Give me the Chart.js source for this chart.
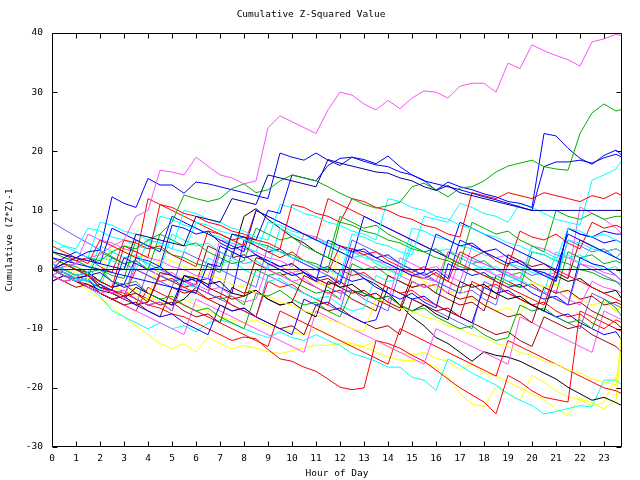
<!DOCTYPE html>
<html>
<head>
<meta charset="utf-8">
<script src="https://cdn.jsdelivr.net/npm/chart.js@4.4.1/dist/chart.umd.min.js"></script>
<style>
  html, body { margin: 0; padding: 0; background: #fff; }
  #wrap { width: 640px; height: 480px; }
</style>
</head>
<body>
<div id="wrap"><canvas id="zchart" width="640" height="480"></canvas></div>
<script>
// hour of day for each sample (half hour steps, last one at 23:45)
const hours = [0,0.5,1,1.5,2,2.5,3,3.5,4,4.5,5,5.5,6,6.5,7,7.5,8,8.5,9,9.5,10,10.5,11,11.5,12,12.5,13,13.5,14,14.5,15,15.5,16,16.5,17,17.5,18,18.5,19,19.5,20,20.5,21,21.5,22,22.5,23,23.5,23.75];
const hourTicks = [0,1,2,3,4,5,6,7,8,9,10,11,12,13,14,15,16,17,18,19,20,21,22,23];
const zTicks = [-30,-20,-10,0,10,20,30,40];

// cumulative (z*z)-1, one array per line
const zeroLine = [0,0,0,0,0,0,0,0,0,0, 0,0,0,0,0,0,0,0,0,0, 0,0,0,0,0,0,0,0,0,0, 0,0,0,0,0,0,0,0,0,0, 0,0,0,0,0,0,0,0,0];
const navyTen = [3,2.5,2,1.5,1,0.5,0,6,5.5,5, 4.5,4,9,8.5,8,12,11.5,11,16,15.5, 15,14.5,14,18.6,18,17.5,17,16.5,16.3,15.5, 15,14,13.4,14.2,13,12.5,12,11.5,11,10.5, 10,10,10,10,10,10,10,10,10];
const magentaTop = [0,0.5,1,2,2.5,4,5,9,10,16.8, 16.5,16,19,17.5,16,15.5,14.5,15,24,26, 25,24,23,27,30,29.5,28,27,28.6,27.2, 29,30.2,30,29,31,31.5,31.5,30,34.9,34, 38,37,36.2,35.5,34.4,38.5,39,39.8,39.5];
const greenTop = [0,0.5,1,2,1.5,3,4,3.5,5,6, 8,12.6,12,11.5,12,13.7,14.5,13,13.5,15, 16,15.5,15,14,12.9,12,11,10.4,10.8,11.4, 14,14.6,13.5,12.3,13.8,14,15,16.5,17.5,18, 18.5,17.4,17,16.8,23,26.5,28,26.8,27.1];
const blueHighA = [0,1,2,3,3.3,12.3,11.2,10.5,15.4,14.3, 14.3,12.9,14.8,14.5,14,13.5,13,12.5,12,19.7, 19,18.5,19.7,18.5,17.6,19,18.6,17.9,19.2,17.4, 16,15.1,13.4,14.8,14,13.5,12.8,12.3,11.5,11.2, 10.5,23,22.6,20.5,18.8,17.8,19.3,20.2,19.3];
const blueHighB = [2,1.5,1,0.5,0,-0.5,-1,-1.5,-2,-2.5, -3,-3.5,-4,1,0.5,6,5.5,5,10,9.5, 16,15.5,15,17.6,18.8,19,18.3,17.7,17.4,16.5, 16,15,14.5,14,13.5,12.9,12.3,11.8,11.2,10.6, 10,17.4,18.2,18.2,18.5,18,18.9,19.5,19];
const redUpper = [0,1,0,-1,-2,-3,4,3,2,11, 10.5,9.5,9,8,7.5,6.5,6,5,4.5,3.5, 11,10.5,9.5,9,8,12,11.5,10.5,10,9, 8.5,7.5,7,6,5.5,13,12.5,12,13,12.5, 12,13,12.5,12,11.5,12.5,12,13,12.5];
const cyanUpper = [3,4,3,2,8,7.5,6.5,6,5,4.5, 3.5,10,9.5,8.5,8,7,6.5,5.5,5,11, 10.5,9.5,9,8,7.5,6.5,6,5,12,11.5, 10.5,10,9,8.5,7.5,7,6,5.5,4.5,4, 3,2.5,1.5,7,6.5,5.5,6,5,4.5];
const cyanLate = [0,-0.5,-1.5,-2,2,1.5,0.5,0,5,4.5, 3.5,3,8,7.5,6.5,6,5,4.5,3.5,3, 2,1.5,0.5,0,-1,6,5.5,4.5,4,3, 2.5,9,8.5,8,11.2,10.5,9.5,9,8,11.2, 10.5,9.5,8.5,8,7.5,15.1,16,17,18.5];
const greenExtra = [0,1,0,-1,3,2,1,1.5,0,6, 5,4,4.5,3,2,1,1.5,7,6,5, 5.5,4,3,2,9,8,7,7.5,6,5, 4,3,3.5,2,1,8,7,6,6.5,5, 4,3,10,9,8.5,9.5,8.5,9,9];
const blueMid = [0,2,3,2,1,7,6,5,4,3, 9,8,7,6,5,4,3,10,9,8, 7,6,5,4,3,2,9,8,7,6, 5,4,3,2,8,7,6,5,4,3, 2,1,0,6,5,4,3,2,1.5];
const blueExtra = [0,-0.5,-1.5,-1,-2.5,-3.5,2,1,0,0.5, -1,-2,-1.5,-3,4,3,2,2.5,1,0, -1,-0.5,-2,5,4,3,3.5,2,1,0, -1,-0.5,6,5,4,4.5,3,2,1,1.5, 0,-1,-2,7,6,5.5,6.5,6,6];
const redMidA = [4,3,2,1,5,4,3,2,12,11, 10,9,8,7,6,5,4,10,9,8, 7,6,5,12,11,10,9,8,7,6, 5,4,3,2,1,0,-1,-2,-3,-4, -5,-6,0,-1,-2,-3,-4,-5,-5.5];
const redMidB = [3,2.5,1.5,2,0.5,-0.5,5,4.5,3.5,4, 2.5,1.5,0.5,6.5,6,5,5.5,4,3,2, 3,1.5,0.5,-0.5,4,3.5,2.5,3,1.5,0.5, -0.5,0.5,-1,-2,3,2,3,1.5,0.5,6.5, 5.5,5,6,4.5,3.5,8,7,7.5,7];
const cyanMid = [5,4,3.5,7,6.5,5.5,5,4,3.5,9, 8.5,7.5,7,6,5.5,4.5,4,3,8,7.5, 6.5,6,5,4.5,3.5,3,2,1.5,0.5,0, 7,6.5,5.5,5,4,3.5,2.5,2,1,0.5, -0.5,-1,-2,5,4.5,3.5,3,2,1.5];
const cyanExtra = [1,0,-1,-0.5,4,3,2,2.5,1,0, 6,5,4,4.5,3,2,1,1.5,0,7, 6,5,5.5,4,3,2,2.5,1,0,-1, 5,4,3,3.5,2,1,0,0.5,-1,-2, 4,3,2,2.5,1,4,3,3.5,3];
const greenMid = [3,2,1.5,0.5,0,-1,-1.5,5,4,3.5, 2.5,2,1,0.5,-0.5,6,5.5,4.5,4,3, 2.5,1.5,1,0,8,7.5,6.5,6,5,4.5, 3.5,3,2,1.5,0.5,0,-1,-1.5,-2.5,-3, 3,2.5,1.5,1,0,-0.5,-1.5,-2,-3];
const magentaMid = [1,2,1,6,5,4.5,3.5,3,2,1.5, 0.5,0,-1,-1.5,5,4.5,3.5,3,2,1.5, 0.5,6,5.5,4.5,4,3,2.5,1.5,1,0, -0.5,-1.5,-2,3,2.5,1.5,1,0,-0.5,-1.5, 4,3.5,2.5,2,1,0.5,-0.5,-1,-2];
const slateStart = [8,6.8,5.6,4.5,3.3,2.2,1,0,-1,-2, -3,3,2,1,0,-1,-2,-3,4,3, 2,1,0,-1,-2,5,4,3,2,1, 0,-1,-2,-3,-4,2,1,0,-1,-2, -3,-4,-5,-6,1,0,-1,-2,-2.5];
const blueLowA = [1,0,-1,-0.5,-2,-3,-2.5,2,1.5,0.5, 7.5,7,6,6.5,4.5,3.5,4,2.5,1.5,0.5, 1,-0.5,-1.5,-1,-2.5,3.5,3,2,2.5,1, 0,-1,0,-1.5,5,4,3,3.5,2,1, 0,-0.5,-1.5,7,6,5.5,4.5,5,4.5];
const darkRedA = [0,-0.5,-1.5,-1,-3,-3.5,-4.5,-4,-5.5,-0.5, -1,-2,-1.5,-3,-4,-5,-4.5,2,1.5,0.5, 1,-0.5,-1.5,-2.5,-2,-3.5,-4.5,-4,-5.5,-6.5, -1,-1.5,-0.5,-2,-3,-2.5,-4,-5,2.5,1.5, 0.5,1,-0.5,-1.5,5,4,3,3.5,3];
const magentaLowA = [0,-1,-1.5,-1,-3,-4,-3.5,-5,-6,-5.5, -7,-2,-2.5,-3.5,-3,-4.5,-5.5,-5,1,0.5, -0.5,0,-1.5,-2.5,-2,-3.5,-4.5,-4,-5.5,2, 1,0,0.5,-1,-2,4,3,2,2.5,1, 0,-1,-0.5,-1.5,10.6,9.5,8.5,7,6];
const greenLow = [2,1,0.5,-0.5,0,-2,-2.5,-2,-4,-5, -4.5,-6,-7,-6.5,-8,-9,-10,-4,-4.5,-3.5, -5,-6,-5.5,-7,-8,-3.5,-4,-5,-4.5,-6, -7,-6.5,-8,-9,-10,-9.5,-11,-12,-11.5,-6, -7,-6.5,-8,-9,-8.5,-10,-5,-6.5,-8];
const yellowMidA = [1,0,-0.5,-1.5,-2,-3,-3.5,-4.5,-5,2, 1.5,0.5,0,-1,-1.5,-2.5,-3,-4,-4.5,-5.5, -6,-7,-7.5,-8.5,-9,-10,-10.5,-5,-5.5,-6.5, -7,-8,-8.5,-9.5,-10,-11,-11.5,-12.5,-13,-14, -14.5,-15.5,-16,-17,-17.5,-18.5,-19,-19.5,-10];
const blackMid = [0,-1,-1.5,-1,-3,-4,-3.5,-5,-6,-5.5, -7,-1,-1.5,-2.5,-2,-4,-4.5,-3.5,-5,-6, -5.5,-7,-8,-2,-3,-2.5,-4,-5,-4.5,-6, -7,-6,-7.5,-8.5,-2,-3,-2.5,-4,-5,-4.5, -6,-7,-1,-2,-1.5,-3,-4,-3.5,-5];
const magentaExtra = [-1,-2,-1.5,-3,-4,-3.5,-5,1,0,-1, -0.5,-2,-3,-4,3,2,1,1.5,0,-1, -2,-1.5,-3,-4,-5,2,1,0,0.5,-1, -2,-3,-2.5,-4,2,1,0,-1,-0.5,-2, -3,-4,-3.5,-5,-6,-2,-3,-3.5,-4];
const blueLowB = [0,1,0,-1,-0.5,-2,-3,-2.5,-4,-5, -6,-1,-2,-1.5,-3,-4,5,4,3,3.5, 2,1,0,0.5,-1,-2,-1.5,-3,-4,-5, -4,-5.5,-6.5,1,0,-1,-0.5,-2,-3,-2.5, -4,-5,-4.5,-6,2,1,0.5,-1,-2];
const darkRedB = [2,1,0,-0.5,-2,-3,-2.5,-4,-5,-6, -5.5,-7,-8,-7.5,-9,-3,-4,-3.5,-5,-6, -5.5,-1,-2,-1.5,-3,-4,-3.5,-5,-6,-7, -2,-3,-2.5,-4,-5,-4.5,-6,-7,-8,-7.5, -9,-3,-4,-3.5,-5,-4.5,-6,-5.5,-6];
const cyanLowA = [0,-1,-2,-1.5,-3.5,3,2,2.5,0.5,-0.5, -1,-2.5,-3,2,1,1.5,0,-1,-2,-1.5, -3,-4,-5,-4.5,-6,-7,-6.5,-1,-2,-1.5, 4,3,3.5,2,1,0,0.5,-1,-2,-1.5, -3,-4,3,2,2.5,1,0,0.5,-1];
const redLowA = [-1,-2,-1.5,-3,-4,-5,-4.5,0,-1,-2, -1.5,-3,-4,-5,-4.5,-6,-7,-8,-2,-3, -2.5,-4,-5,-6,0,-1,-0.5,-2,-3,-4, -3.5,-5,-6,-7,-8,-2,-3,-2.5,-4,-5, -6,-5.5,-7,-8,-7.5,-9,-10,-8.5,-9];
const blueLowC = [-2,-1,-2,-1.5,-4,-5,-4.5,-6,-7,-8, -7.5,-9,-10,-11,-6,-7,-6.5,-8,-9,-10, -11,-5,-6,-5.5,-7,-8,-9,-8.5,-3,-4, -5,-4.5,-6,-7,-8,-9,-3,-4,-3.5,-5, -6,-7,-8,-7.5,-9,-10,-11,-10.5,-12];
const darkRedC = [-1,-2,-3,-2.5,-4,-5,-6,-5.5,-7,-8, -3,-4,-3.5,-5,-6,-7,-6.5,-8,-9,-10, -9.5,-11,-6,-7,-6.5,-8,-9,-10,-9.5,-11, -5,-6,-7,-6.5,-8,-9,-10,-11,-10.5,-12, -13,-8,-9,-10,-9.5,-11,-12,-13,-14];
const yellowMidB = [2,1,0,-1,-0.5,4,3,2,2.5,0.5, -0.5,-1.5,-1,-3,-4,-5,-4.5,2,1,0, 0.5,-1,-2,-3,3,2,2.5,1,0,-1, -0.5,-2,-3,-4,-3.5,-5,-6,-7,-6.5,-8, -2,-3,-2.5,-4,-5,-6,-5.5,-7,-6];
const slateLowA = [-1,-2,-1.5,-3,-4,-5,-4.5,-6,0,-1, -2,-1.5,-3,-4,-5,3,2,2.5,1,0, -1,-0.5,-2,-3,-4,-3.5,-5,-6,-7,0, -1,-0.5,-2,-3,-4,-3.5,-5,-6,1,0, -1,-0.5,-2,5,4,3,3.5,2,3];
const darkRedD = [-2,-1,-2,-3,-2.5,-4,-5,-6,-5.5,-1, -2,-3,-2.5,4,3,2,2.5,1,0,-1, -0.5,-2,-3,-4,-3.5,-5,-6,-7,-1,-2, -3,-2.5,-4,-5,-6,-5.5,-7,-1,-2,-3, -2.5,-4,-5,-6,-5.5,-7,-8,-9,-10];
const magentaLowB = [0,-1,-2,-3,-4,-5,-6,-7,-8,-9, -10,-11,-5,-6,-7,-8,-9,-10,-11,-12, -13,-14,-7,-8,-9,-10,-11,-12,-13,-14, -15,-16,-10,-11,-12,-13,-14,-15,-16,-8, -9,-10,-11,-12,-13,-14,-7,-8,-8.5];
const greenLowB = [1,0,-1,-0.5,-2,2,1,1.5,0,-1, -2,-1.5,-3,-4,-5,-4.5,-6,0,-1,-0.5, -2,-3,-4,-3.5,-5,1,0,0.5,-1,-2, -3,-2.5,-4,3,2,1,1.5,0,-1,-0.5, -2,-3,-4,3,2,2.5,1,1.5,1];
const slateLowB = [-1,0,-1,-2,-3,-4,-5,2,1,0, -1,-2,-3,-4,-5,-6,-7,-8,-1,-2, -3,-4,-5,-6,-7,0,-1,-2,-3,-4, -5,-6,-7,-8,-9,-10,-2,-3,-4,-5, -6,-7,-8,-9,-10,-4,-5,-6,-6.5];
const redLowB = [0,-1,-2,-3,-4,-5,-6,-7,-3,-4, -5,-6,-7,-8,-9,-10,-11,-12,-13,-7, -8,-9,-10,-11,-12,-13,-14,-15,-16,-10, -11,-12,-13,-14,-15,-16,-17,-18,-12,-13, -14,-15,-16,-17,-18,-19,-20,-20.5,-21];
const blackLow = [0,-1,-2,-2.5,-3.5,-4,-5,-3,-4,-5, -6,-5,-3,-4,3,2,9,10.3,8.5,7, 5.5,4.5,3,2,1,0,-1.5,-2.5,-4,-6, -8,-9.5,-11.5,-12.5,-14,-15.5,-13.9,-14.5,-14.8,-15.5, -16.5,-17.5,-18.5,-19.9,-21,-22.1,-21.6,-22.5,-23];
const redJump = [0,-0.5,-1.5,-2,-3,-3.5,-4,-5,-6,-6.5, -7.5,-8,-9,-10,-11,-12,-11.4,-11.7,-13.5,-15.1, -15.5,-16.5,-17.2,-18.5,-19.9,-20.3,-20,-12,-12.5,-13.3, -14.5,-15.5,-17,-18.5,-20,-21.2,-22.4,-24.4,-17.9,-19, -20.5,-21.6,-22,-22.4,-7,-8,-9,-10,-10.5];
const cyanLow = [0,-1,-2,-3,-4.5,-6.9,-8,-9,-10,-9, -10,-9.5,-10.5,-9,-8.5,-9.1,-10,-10.8,-11.5,-10.5, -11.5,-12,-11,-12,-12.8,-14.2,-14.8,-15.5,-16.5,-16.5, -18.2,-18.7,-20.4,-15.1,-16.2,-17.5,-18.5,-19.5,-21,-22.1, -23,-24.4,-24,-23.5,-23,-23.2,-18.7,-18.7,-19.5];
const yellowLowA = [0,-1,-2,-3.5,-4.9,-6.3,-8,-9.5,-11,-12.5, -13.4,-12.5,-14,-11.4,-12.5,-13.4,-12.8,-13.3,-13.9,-14.2, -13.7,-13.2,-12.8,-12.8,-12.5,-12.8,-13.1,-13.9,-14.8,-15.3, -15.4,-15.6,-16.5,-18.2,-21,-22.7,-23.2,-19.9,-21,-22.1, -17.9,-19,-20.5,-21.5,-22,-23,-22.5,-18,-17];
const yellowLowB = [0,-0.5,-1,-1.5,-2,-3,-2.5,-3.5,-4.5,-5.5, -6,-5,-6,-7,-8,-8.5,-9,-8.5,-9.5,-10, -10.5,-11,-10,-11,-12,-12.5,-13,-12,-13,-14, -14.5,-14,-15,-15.5,-17,-16,-17.5,-18,-19,-20, -21,-22,-23.6,-24.7,-21.8,-22.5,-23.5,-22,-12];

// line colours (gnuplot style palette)
const RED = "#ff0000", GREEN = "#00b000", BLUE = "#0000ff", MAGENTA = "#ff50ff",
      CYAN = "#00ffff", DARKRED = "#a00000", YELLOW = "#ffff00", BLACK = "#000000",
      SLATE = "#6060ff", NAVY = "#0000a0";

// first entry ends up drawn on top
const lines = [
  [zeroLine, NAVY], [navyTen, NAVY], [magentaTop, MAGENTA], [greenTop, GREEN],
  [blueHighA, BLUE], [blueHighB, BLUE], [redUpper, RED], [cyanUpper, CYAN],
  [cyanLate, CYAN], [greenExtra, GREEN], [blueMid, BLUE], [blueExtra, BLUE],
  [redMidA, RED], [redMidB, RED], [cyanMid, CYAN], [cyanExtra, CYAN],
  [greenMid, GREEN], [magentaMid, MAGENTA], [slateStart, SLATE], [blueLowA, BLUE],
  [darkRedA, DARKRED], [magentaLowA, MAGENTA], [greenLow, GREEN], [yellowMidA, YELLOW],
  [blackMid, BLACK], [magentaExtra, MAGENTA], [blueLowB, BLUE], [darkRedB, DARKRED],
  [cyanLowA, CYAN], [redLowA, RED], [blueLowC, BLUE], [darkRedC, DARKRED],
  [yellowMidB, YELLOW], [slateLowA, SLATE], [darkRedD, DARKRED], [magentaLowB, MAGENTA],
  [greenLowB, GREEN], [slateLowB, SLATE], [redLowB, RED], [blackLow, BLACK],
  [redJump, RED], [cyanLow, CYAN], [yellowLowA, YELLOW], [yellowLowB, YELLOW]
];

const FONT = "'DejaVu Sans Mono', 'Liberation Mono', monospace";
const txt = { family: FONT, size: 9.5, weight: "normal", lineHeight: 1.2 };

// gnuplot style frame with inward tick marks on all four sides
const frameTicks = {
  id: "frameTicks",
  afterDraw(chart) {
    const { ctx, chartArea: a } = chart;
    const xs = chart.scales.x, ys = chart.scales.y;
    const L = Math.round(a.left) + 0.5, R = Math.round(a.right) - 0.5;
    const T = Math.round(a.top) + 0.5, B = Math.round(a.bottom) - 0.5;
    ctx.save();
    ctx.strokeStyle = "#000";
    ctx.lineWidth = 1;
    ctx.beginPath();
    ctx.rect(L, T, R - L, B - T);
    xs.ticks.forEach(t => {
      const px = Math.round(xs.getPixelForValue(t.value)) + 0.5;
      ctx.moveTo(px, B); ctx.lineTo(px, B - 5);
      ctx.moveTo(px, T); ctx.lineTo(px, T + 5);
    });
    ys.ticks.forEach(t => {
      const py = Math.round(ys.getPixelForValue(t.value)) + 0.5;
      ctx.moveTo(L, py); ctx.lineTo(L + 5, py);
      ctx.moveTo(R, py); ctx.lineTo(R - 5, py);
    });
    ctx.stroke();
    ctx.restore();
  }
};

new Chart(document.getElementById("zchart"), {
  type: "line",
  data: {
    datasets: lines.map(([vals, col]) => ({
      data: vals.map((v, i) => ({ x: hours[i], y: v })),
      borderColor: col,
      backgroundColor: col,
      borderWidth: 1,
      pointRadius: 0,
      tension: 0,
      fill: false
    }))
  },
  options: {
    responsive: false,
    animation: false,
    devicePixelRatio: 1,
    layout: { padding: { left: 0, right: 18, top: 0, bottom: 0 } },
    plugins: {
      legend: { display: false },
      tooltip: { enabled: false },
      title: {
        display: true,
        text: "Cumulative Z-Squared Value",
        color: "#000",
        font: txt,
        padding: { top: 9, bottom: 12.6 }
      }
    },
    scales: {
      x: {
        type: "linear",
        min: 0,
        max: 23.75,
        grid: { display: false, drawTicks: false },
        border: { display: false },
        ticks: { autoSkip: false, maxRotation: 0, padding: 6, color: "#000", font: txt },
        title: { display: true, text: "Hour of Day", color: "#000", font: txt, padding: { top: 0, bottom: 1 } },
        afterBuildTicks: s => { s.ticks = hourTicks.map(v => ({ value: v })); },
        afterFit: s => { s.height = 33; }
      },
      y: {
        min: -30,
        max: 40,
        grid: { display: false, drawTicks: false },
        border: { display: false },
        ticks: { padding: 9, color: "#000", font: txt },
        title: { display: true, text: "Cumulative (Z*Z)-1", color: "#000", font: txt, padding: { top: 4, bottom: 0 } },
        afterBuildTicks: s => { s.ticks = zTicks.map(v => ({ value: v })); },
        afterFit: s => { s.width = 52; }
      }
    }
  },
  plugins: [frameTicks]
});
</script>
</body>
</html>
